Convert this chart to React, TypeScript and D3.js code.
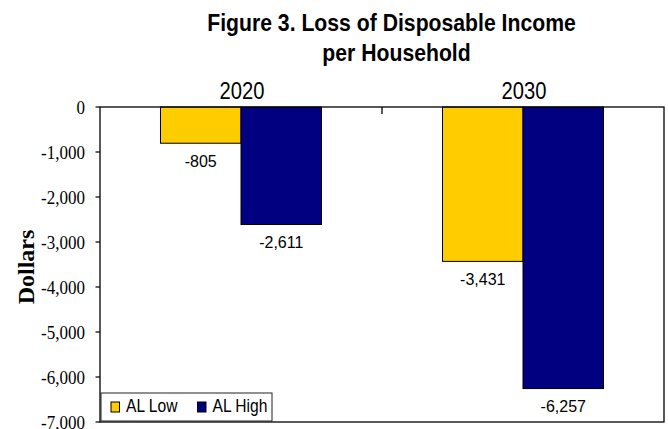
import React from "react";
import * as d3 from "d3";

const categories = ["2020", "2030"];
const seriesNames = ["AL Low", "AL High"];
const alLow = [-805, -3431];
const alHigh = [-2611, -6257];
const yTicks = [0, -1000, -2000, -3000, -4000, -5000, -6000, -7000];
const titleLines = ["Figure 3. Loss of Disposable Income", "per Household"];
const colors = ["#FFCC00", "#000080"];

const W = 668;
const H = 429;
const plot = { left: 100, right: 664, top: 107, bottom: 422 };

const SANS = "'Liberation Sans', Arial, sans-serif";
const SERIF = "'Liberation Serif', 'DejaVu Serif', serif";

function SText({ x, y, sy = 1, children, ...rest }: any) {
  return (
    <text transform={`translate(${x},${y}) scale(1,${sy})`} {...rest}>
      {children}
    </text>
  );
}

export default function App() {
  const x0 = d3
    .scaleBand<string>()
    .domain(categories)
    .range([plot.left, plot.right])
    .paddingInner(0.429)
    .paddingOuter(0.2145);
  const x1 = d3.scaleBand<string>().domain(seriesNames).range([0, x0.bandwidth()]);
  const y = d3.scaleLinear().domain([-7000, 0]).range([plot.bottom, plot.top]);
  const fmt = d3.format(",");
  const values = [alLow, alHigh];

  return (
    <svg
      width={W}
      height={H}
      style={{ position: "absolute", left: 0, top: 0, background: "#fff" }}
    >
      <rect x={0} y={0} width={W} height={H} fill="#fff" />
      {/* Title */}
      <SText x={391.5} y={31} sy={1.12} textAnchor="middle" fontFamily={SANS} fontWeight="bold" fontSize={21.2} fill="#000">
        {titleLines[0]}
      </SText>
      <SText x={396.5} y={60.5} sy={1.12} textAnchor="middle" fontFamily={SANS} fontWeight="bold" fontSize={21.2} fill="#000">
        {titleLines[1]}
      </SText>

      {/* Category labels */}
      {categories.map((c) => (
        <SText key={c} x={x0(c)! + x0.bandwidth() / 2 + 1} y={99} sy={1.2} textAnchor="middle" fontFamily={SANS} fontSize={20.2} fill="#000">
          {c}
        </SText>
      ))}

      {/* Bars */}
      {categories.map((c, ci) =>
        seriesNames.map((s, si) => {
          const v = values[si][ci];
          const bx = x0(c)! + x1(s)!;
          return (
            <rect
              key={c + s}
              x={bx}
              y={y(0)}
              width={x1.bandwidth()}
              height={y(v) - y(0)}
              fill={colors[si]}
              stroke="#000"
              strokeWidth={1}
            />
          );
        })
      )}

      {/* Data labels */}
      {categories.map((c, ci) =>
        seriesNames.map((s, si) => {
          const v = values[si][ci];
          const cx = x0(c)! + x1(s)! + x1.bandwidth() / 2;
          return (
            <SText key={"l" + c + s} x={cx} y={y(v) + 23.5} sy={1.05} textAnchor="middle" fontFamily={SANS} fontSize={16} fill="#000">
              {fmt(v).replace("−", "-")}
            </SText>
          );
        })
      )}

      {/* Frame */}
      <rect
        x={plot.left}
        y={plot.top}
        width={plot.right - plot.left}
        height={plot.bottom - plot.top}
        fill="none"
        stroke="#000"
        strokeWidth={1.3}
      />
      {/* Category divider tick at top axis */}
      {categories.slice(1).map((c) => {
        const xx = x0(c)! - (x0.step() - x0.bandwidth()) / 2;
        return <line key={"t" + c} x1={xx} x2={xx} y1={plot.top} y2={plot.top + 7} stroke="#000" strokeWidth={1.3} />;
      })}

      {/* Y axis ticks and labels */}
      {yTicks.map((t) => (
        <g key={t}>
          <line x1={plot.left - 4.5} x2={plot.left} y1={y(t)} y2={y(t)} stroke="#000" strokeWidth={1.2} />
          <SText x={85} y={y(t) + 7} sy={1.13} textAnchor="end" fontFamily={SERIF} fontSize={17} fill="#000">
            {fmt(t).replace("−", "-")}
          </SText>
        </g>
      ))}

      {/* Y axis title */}
      <text
        transform={`translate(34,267) rotate(-90)`}
        textAnchor="middle"
        fontFamily={SERIF}
        fontWeight="bold"
        fontSize={24}
        fill="#000"
      >
        Dollars
      </text>

      {/* Legend */}
      <rect x={101} y={393} width={171} height={28} fill="#fff" stroke="#222" strokeWidth={1} />
      {seriesNames.map((s, i) => {
        const lx = i === 0 ? 111 : 197.5;
        return (
          <g key={"lg" + s}>
            <rect x={lx} y={402} width={8.5} height={10} fill={colors[i]} stroke="#000" strokeWidth={1} />
            <SText x={lx + 15} y={412} sy={1.2} fontFamily={SANS} fontSize={15.6} fill="#000">
              {s}
            </SText>
          </g>
        );
      })}
    </svg>
  );
}
